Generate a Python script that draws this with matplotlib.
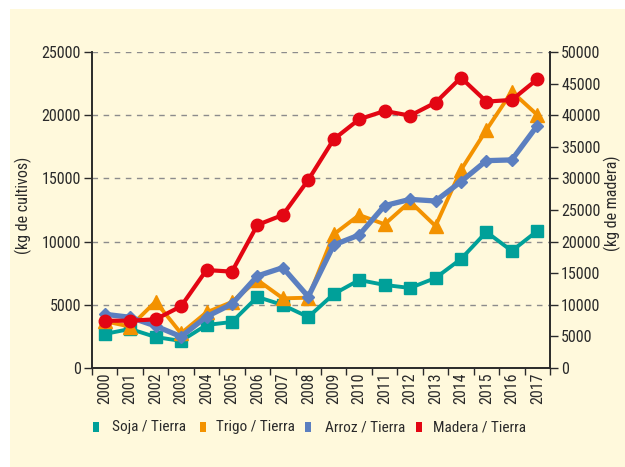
import matplotlib.pyplot as plt
from matplotlib.patches import Rectangle

years = [str(y) for y in range(2000, 2018)]
soja = [2690, 3090, 2450, 2140, 3400, 3640, 5620, 4980, 4030, 5850, 6960, 6570, 6330, 7120, 8620, 10760, 9260, 10840]
trigo = [3700, 3270, 5250, 2740, 4400, 5220, 6960, 5510, 5560, 10570, 12100, 11370, 13160, 11230, 15660, 18830, 21860, 20020]
arroz = [4250, 4010, 3320, 2480, 4060, 5060, 7280, 7940, 5640, 9730, 10520, 12840, 13340, 13210, 14740, 16400, 16460, 19170]
madera = [7480, 7480, 7700, 9760, 15500, 15240, 22630, 24210, 29750, 36180, 39350, 40660, 39920, 41980, 45930, 42140, 42410, 45680]

labels = ['Soja / Tierra', 'Trigo / Tierra', 'Arroz / Tierra', 'Madera / Tierra']
colors = ['#00A099', '#F39200', '#5B7FC0', '#E30613']

plt.rcParams['font.family'] = ['Roboto Condensed', 'Liberation Sans', 'DejaVu Sans']
font_size = 11.5
txt = '#2a2a2a'
bg = '#FFF9DC'

fig = plt.figure(figsize=(6.25, 4.67), dpi=100)
fig.patches.append(Rectangle((10 / 625, 0), 1, 1 - 9 / 467, transform=fig.transFigure,
                             facecolor=bg, edgecolor='none', zorder=-10))

ax = fig.add_axes([0.1472, 0.212, 0.7328, 0.6768])
ax.set_facecolor('none')
ax2 = ax.twinx()
ax2.set_facecolor('none')

x = list(range(len(years)))
ax.plot(x, soja, color=colors[0], marker='s', markersize=9, lw=2.8)
ax.plot(x, trigo, color=colors[1], marker='^', markersize=10, lw=2.8)
ax.plot(x, arroz, color=colors[2], marker='D', markersize=6, lw=3.8)
ax2.plot(x, madera, color=colors[3], marker='o', markersize=9, lw=3)

ax.set_xlim(-0.5, 17.5)
ax.set_ylim(0, 25000)
ax2.set_ylim(0, 50000)
ax.set_yticks(range(0, 25001, 5000))
ax2.set_yticks(range(0, 50001, 5000))
for yv in range(5000, 25001, 5000):
    ax.axhline(yv, color='#8c8c8c', lw=1, ls=(0, (4, 4)), zorder=0)

ax.set_xticks([i - 0.5 for i in range(len(years) + 1)])
ax.set_xticklabels([])
ax.set_xticks(x, minor=True)
ax.set_xticklabels(years, minor=True, rotation=90, fontsize=font_size, color=txt)
ax.tick_params(axis='x', which='minor', length=0, pad=3)
ax.tick_params(axis='x', which='major', length=5, width=1, color=txt)
ax.tick_params(axis='y', labelsize=font_size, length=6, width=1, colors=txt, pad=2)
ax2.tick_params(axis='y', labelsize=font_size, length=6, width=1, colors=txt, pad=2)

for a in (ax, ax2):
    a.spines['top'].set_visible(False)
    for s in ('left', 'right', 'bottom'):
        a.spines[s].set_color(txt)
        a.spines[s].set_linewidth(1.2)

ax.set_ylabel('(kg de cultivos)', fontsize=font_size, color=txt)
ax.yaxis.set_label_coords(-0.13, 0.516)
ax2.set_ylabel('(kg de madera)', fontsize=font_size, color=txt, rotation=90)
ax2.yaxis.set_label_coords(1.117, 0.52)

# legend drawn by hand
sq_x = [93, 200, 305, 416]
tx_x = [112, 216, 325, 433]
for c, l, sx, tx in zip(colors, labels, sq_x, tx_x):
    fig.patches.append(Rectangle((sx / 625, 1 - 432 / 467), 6 / 625, 10 / 467,
                                 transform=fig.transFigure, facecolor=c, edgecolor='none'))
    fig.text(tx / 625, 1 - 427 / 467, l, fontsize=11, color=txt, va='center', ha='left')

plt.savefig('out.png', dpi=100)
